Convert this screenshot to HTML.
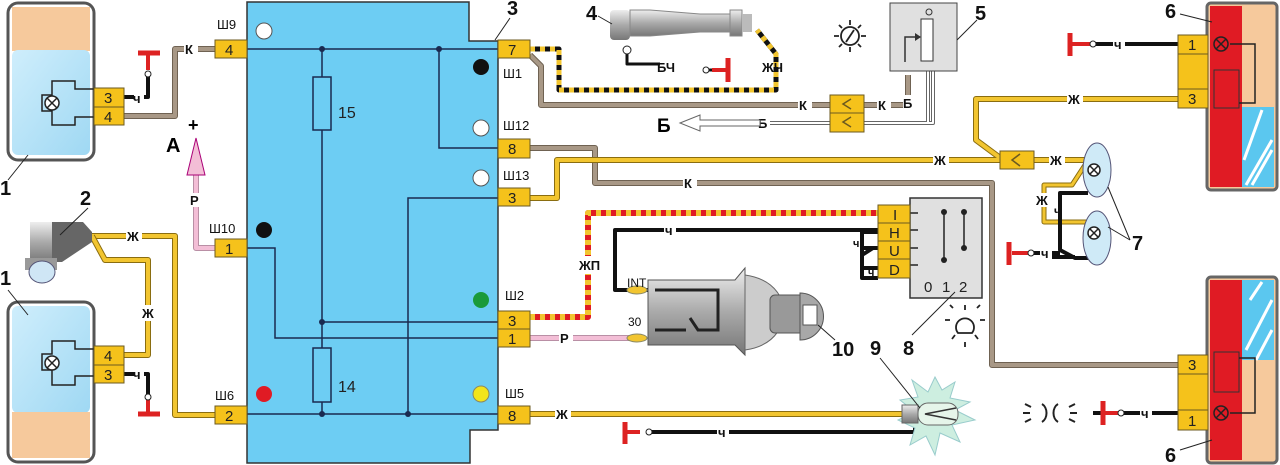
<!DOCTYPE html>
<html><head><meta charset="utf-8"><style>
body{margin:0;background:#fff}
svg{display:block}
text{font-family:"Liberation Sans",sans-serif;font-weight:bold}
.c{fill:#f5c21b;stroke:#6b5a20;stroke-width:1}
.ct{font-size:15px;font-weight:normal;fill:#222}
.lb{font-size:13px;font-weight:normal;fill:#111}
.n{font-size:20px;fill:#111}
.wl{font-size:13px;fill:#111}
</style></head><body>
<svg width="1280" height="465" viewBox="0 0 1280 465" xmlns="http://www.w3.org/2000/svg">
<defs>
<linearGradient id="cyl" x1="0" y1="0" x2="0" y2="1"><stop offset="0" stop-color="#eee"/><stop offset=".5" stop-color="#aaa"/><stop offset="1" stop-color="#777"/></linearGradient>
<linearGradient id="gl" x1="0" y1="0" x2="1" y2="1"><stop offset="0" stop-color="#cfeefc"/><stop offset="1" stop-color="#9fd8f3"/></linearGradient>
</defs>

<!-- Headlight 1 top -->
<rect x="8" y="3" width="86" height="157" rx="10" fill="#fff" stroke="#555" stroke-width="3"/>
<rect x="12" y="7" width="78" height="44" fill="#f6c99c"/>
<rect x="12" y="50" width="78" height="105" rx="6" fill="url(#gl)"/>
<path d="M94 89 H75 V81 H52 V95 H42 V111 H52 V125 H75 V117 H94" fill="none" stroke="#222" stroke-width="1.5"/>
<circle cx="52" cy="103" r="7" fill="#fff" stroke="#222" stroke-width="1.5"/><path d="M47 98l10 10M57 98l-10 10" stroke="#222" stroke-width="1.5"/>
<!-- Headlight 1 bottom -->
<rect x="8" y="302" width="86" height="160" rx="10" fill="#fff" stroke="#555" stroke-width="3"/>
<rect x="12" y="306" width="78" height="107" rx="6" fill="url(#gl)"/>
<rect x="12" y="412" width="78" height="46" fill="#f6c99c"/>
<path d="M94 349 H75 V341 H52 V354 H42 V370 H52 V385 H75 V376 H94" fill="none" stroke="#222" stroke-width="1.5"/>
<circle cx="52" cy="363" r="7" fill="#fff" stroke="#222" stroke-width="1.5"/><path d="M47 358l10 10M57 358l-10 10" stroke="#222" stroke-width="1.5"/>
<text x="0" y="195" class="n">1</text><line x1="8" y1="180" x2="28" y2="155" stroke="#222"/>
<text x="0" y="285" class="n">1</text><line x1="8" y1="290" x2="28" y2="315" stroke="#222"/>

<!-- Left wires -->
<g fill="none" stroke-linejoin="round">
<path d="M124 116 H175 V49 H215" stroke="#6f6252" stroke-width="6"/><path d="M124 116 H175 V49 H215" stroke="#a89886" stroke-width="4"/>
<path d="M92 236 H175 V415 H215" stroke="#8a6d10" stroke-width="6"/><path d="M92 236 H175 V415 H215" stroke="#f2c530" stroke-width="4"/>
<path d="M92 236 L105 260 H148 V355 H124" stroke="#8a6d10" stroke-width="6"/><path d="M92 236 L105 260 H148 V355 H124" stroke="#f2c530" stroke-width="4"/>
<path d="M124 97 H148 V76" stroke="#111" stroke-width="4"/>
<path d="M148 70 V53" stroke="#d22" stroke-width="4"/><path d="M138 53 H160" stroke="#d22" stroke-width="5"/>
<path d="M124 374 H148 V395" stroke="#111" stroke-width="4"/>
<path d="M148 400 V413" stroke="#d22" stroke-width="4"/><path d="M138 414 H160" stroke="#d22" stroke-width="5"/>
<path d="M215 248 H196 V175" stroke="#b98fa5" stroke-width="6"/><path d="M215 248 H196 V175" stroke="#f3bed6" stroke-width="4"/>
</g>
<circle cx="148" cy="74" r="3" fill="#fff" stroke="#222"/><circle cx="148" cy="397" r="3" fill="#fff" stroke="#222"/>
<path d="M187 175 L196 138 L205 175 Z" fill="#f3bed6" stroke="#a07"/>
<rect x="134" y="93" width="10" height="10" fill="#fff"/><text x="133" y="103" class="wl">ч</text>
<rect x="134" y="369" width="10" height="10" fill="#fff"/><text x="133" y="379" class="wl">ч</text>
<rect x="184" y="42" width="14" height="14" fill="#fff"/><text x="185" y="54" class="wl">К</text>
<rect x="126" y="229" width="16" height="14" fill="#fff"/><text x="127" y="241" class="wl">Ж</text>
<rect x="141" y="305" width="16" height="16" fill="#fff"/><text x="142" y="318" class="wl">Ж</text>
<rect x="189" y="193" width="14" height="14" fill="#fff"/><text x="190" y="205" class="wl">Р</text>
<text x="166" y="152" style="font-size:20px">А</text><text x="188" y="131" style="font-size:18px">+</text>
<!-- connectors left headlights -->
<rect x="94" y="88" width="30" height="19" class="c"/><text x="104" y="103" class="ct">3</text>
<rect x="94" y="107" width="30" height="18" class="c"/><text x="104" y="122" class="ct">4</text>
<rect x="94" y="346" width="30" height="19" class="c"/><text x="104" y="361" class="ct">4</text>
<rect x="94" y="365" width="30" height="18" class="c"/><text x="104" y="380" class="ct">3</text>

<!-- Sensor 2 -->
<rect x="30" y="222" width="22" height="40" fill="url(#cyl)"/>
<path d="M52 222 H83 L92 232 V242 L62 262 H52 Z" fill="#666"/>
<rect x="25" y="258" width="32" height="12" fill="#999"/>
<path d="M34 270 A14 14 0 0 0 50 270 Z" fill="#cfe6f5" stroke="#557"/>
<ellipse cx="42" cy="272" rx="13" ry="11" fill="#cfe6f5" stroke="#557"/>
<text x="80" y="205" class="n">2</text><line x1="88" y1="208" x2="60" y2="235" stroke="#222"/>

<!-- Block 3 -->
<path d="M247 2 H469 V41 H498 V430 H470 V463 H247 Z" fill="#6dcdf3" stroke="#333" stroke-width="1.5"/>
<g stroke="#1a2a50" stroke-width="1.5" fill="none">
<path d="M247 49 H498"/><path d="M322 49 V414"/><path d="M439 49 V148 H498"/>
<path d="M408 414 V198 H498"/><path d="M322 322 H498"/><path d="M247 248 H275 V338 H498"/><path d="M247 414 H498"/>
<rect x="313" y="77" width="18" height="53" fill="#6dcdf3"/><rect x="313" y="348" width="18" height="54" fill="#6dcdf3"/>
</g>
<g fill="#1a2a50"><circle cx="322" cy="49" r="3"/><circle cx="439" cy="49" r="3"/><circle cx="322" cy="322" r="3"/><circle cx="322" cy="414" r="3"/><circle cx="408" cy="414" r="3"/></g>
<text x="338" y="118" class="ct" style="font-size:16px">15</text><text x="338" y="392" class="ct" style="font-size:16px">14</text>
<circle cx="264" cy="31" r="8" fill="#fff" stroke="#555"/>
<circle cx="481" cy="67" r="8" fill="#111"/>
<circle cx="481" cy="128" r="8" fill="#fff" stroke="#555"/>
<circle cx="481" cy="178" r="8" fill="#fff" stroke="#555"/>
<circle cx="264" cy="230" r="8" fill="#111"/>
<circle cx="481" cy="300" r="8" fill="#1a9a3a"/>
<circle cx="264" cy="394" r="8" fill="#e01b24"/>
<circle cx="481" cy="394" r="8" fill="#f2e51b" stroke="#886"/>
<text x="217" y="29" class="lb">Ш9</text><text x="209" y="233" class="lb">Ш10</text><text x="215" y="400" class="lb">Ш6</text>
<text x="503" y="78" class="lb">Ш1</text><text x="503" y="130" class="lb">Ш12</text><text x="503" y="180" class="lb">Ш13</text>
<text x="505" y="300" class="lb">Ш2</text><text x="505" y="398" class="lb">Ш5</text>
<text x="507" y="15" class="n">3</text><line x1="510" y1="18" x2="495" y2="40" stroke="#222"/>

<!-- Right wires -->
<g fill="none" stroke-linejoin="round">
<!-- brown from 7 -->
<path d="M530 55 L541 66 V105 H830 M864 105 H908 V75" stroke="#6f6252" stroke-width="6"/><path d="M530 55 L541 66 V105 H830 M864 105 H908 V75" stroke="#a89886" stroke-width="4"/>
<!-- striped ЖЧ -->
<path d="M530 49 H559 V90 H776 V54 L757 30" stroke="#111" stroke-width="5"/>
<path d="M530 49 H559 V90 H776 V54 L757 30" stroke="#f2c530" stroke-width="5" stroke-dasharray="5 5"/>
<!-- Б white -->
<path d="M700 123 H830 M864 123 H933 V70 M928 123 V70" stroke="#666" stroke-width="4"/><path d="M700 123 H830 M864 123 H933 V70" stroke="#fff" stroke-width="2"/>
<path d="M928 123 V70" stroke="#fff" stroke-width="2"/>
<!-- Ш12 brown -->
<path d="M530 148 H595 V183 H992 V365 H1178" stroke="#6f6252" stroke-width="6"/><path d="M530 148 H595 V183 H992 V365 H1178" stroke="#a89886" stroke-width="4"/>
<!-- Ш13 yellow -->
<path d="M530 198 H557 V160 H1000 M1033 160 H1085 M1003 160 L976 140 V99 H1178" stroke="#8a6d10" stroke-width="6"/>
<path d="M530 198 H557 V160 H1000 M1033 160 H1085 M1003 160 L976 140 V99 H1178" stroke="#f2c530" stroke-width="4"/>
<path d="M1085 165 L1072 185 H1044 V222 H1088" stroke="#8a6d10" stroke-width="5"/><path d="M1085 165 L1072 185 H1044 V222 H1088" stroke="#f2c530" stroke-width="3"/>
<path d="M1088 193 H1060 V250 L1075 258 H1088 M1040 257 H1075" stroke="#111" stroke-width="4"/>
<!-- Ш5 yellow -->
<path d="M530 414 H902" stroke="#8a6d10" stroke-width="6"/><path d="M530 414 H902" stroke="#f2c530" stroke-width="4"/>
<path d="M652 432 H915 V420" stroke="#111" stroke-width="4"/>
<path d="M640 432 H625" stroke="#d22" stroke-width="4"/><path d="M625 422 V444" stroke="#d22" stroke-width="5"/>
<!-- ЖП striped -->
<path d="M530 317 H588 V213 H878" stroke="#e01b24" stroke-width="6"/>
<path d="M530 317 H588 V213 H878" stroke="#f2c530" stroke-width="6" stroke-dasharray="5 5"/>
<!-- Ч black -->
<path d="M878 230 H615 V290 H650" stroke="#111" stroke-width="4"/>
<path d="M878 232 H862 V255 L873 248 M878 248 H862 M878 268 H862 V278 H878 M862 255 V268" stroke="#111" stroke-width="4"/>
<!-- Р pink -->
<path d="M530 338 H635" stroke="#b98fa5" stroke-width="6"/><path d="M530 338 H635" stroke="#f3bed6" stroke-width="4"/>
<!-- BЧ ground near sensor -->
<path d="M627 52 V64 H660 M705 70 H720" stroke="#111" stroke-width="3"/>
<path d="M712 70 H728" stroke="#d22" stroke-width="4"/><path d="M728 58 V82" stroke="#d22" stroke-width="5"/>
<!-- top-right ground 6 -->
<path d="M1093 44 H1178" stroke="#111" stroke-width="4"/><path d="M1072 44 H1090" stroke="#d22" stroke-width="4"/><path d="M1070 33 V56" stroke="#d22" stroke-width="5"/>
<path d="M1093 413 H1178" stroke="#111" stroke-width="4"/><path d="M1105 413 H1118" stroke="#d22" stroke-width="4"/><path d="M1103 401 V425" stroke="#d22" stroke-width="5"/>
<path d="M1030 253 H1060" stroke="#111" stroke-width="4"/><path d="M1012 253 H1028" stroke="#d22" stroke-width="4"/><path d="M1009 242 V265" stroke="#d22" stroke-width="5"/>
</g>
<circle cx="1093" cy="44" r="3" fill="#fff" stroke="#222"/><circle cx="1121" cy="413" r="3" fill="#fff" stroke="#222"/><circle cx="1031" cy="253" r="3" fill="#fff" stroke="#222"/>
<circle cx="706" cy="70" r="3" fill="#fff" stroke="#222"/><circle cx="649" cy="432" r="3" fill="#fff" stroke="#222"/>

<!-- wire labels -->
<g class="wl">
<rect x="798" y="97" width="14" height="15" fill="#fff"/><text x="799" y="110">К</text>
<rect x="877" y="97" width="14" height="15" fill="#fff"/><text x="878" y="110">К</text>
<rect x="903" y="95" width="12" height="15" fill="#fff"/><text x="903" y="108">Б</text>
<rect x="758" y="116" width="12" height="14" fill="#fff"/><text x="758" y="128">Б</text>
<rect x="683" y="176" width="14" height="14" fill="#fff"/><text x="684" y="188">К</text>
<rect x="933" y="153" width="16" height="14" fill="#fff"/><text x="934" y="165">Ж</text>
<rect x="1049" y="153" width="16" height="14" fill="#fff"/><text x="1050" y="165">Ж</text>
<rect x="1067" y="92" width="16" height="14" fill="#fff"/><text x="1068" y="104">Ж</text>
<rect x="1035" y="193" width="16" height="14" fill="#fff"/><text x="1036" y="205">Ж</text>
<text x="1054" y="215" style="font-size:12px">ч</text>
<rect x="1040" y="246" width="12" height="14" fill="#fff"/><text x="1041" y="258">ч</text>
<rect x="1113" y="37" width="12" height="14" fill="#fff"/><text x="1114" y="49">ч</text>
<rect x="1140" y="406" width="12" height="14" fill="#fff"/><text x="1141" y="418">ч</text>
<rect x="664" y="223" width="12" height="14" fill="#fff"/><text x="665" y="235">ч</text>
<rect x="717" y="425" width="12" height="14" fill="#fff"/><text x="718" y="437">ч</text>
<rect x="555" y="407" width="16" height="14" fill="#fff"/><text x="556" y="419">Ж</text>
<rect x="559" y="331" width="14" height="14" fill="#fff"/><text x="560" y="343">Р</text>
<rect x="578" y="256" width="22" height="18" fill="#fff"/><text x="579" y="270">ЖП</text>
<text x="657" y="72">БЧ</text><text x="762" y="72">ЖЧ</text>
<text x="853" y="247" style="font-size:11px">ч</text><text x="868" y="276" style="font-size:11px">ч</text>
</g>
<text x="657" y="132" style="font-size:19px">Б</text>
<path d="M680 123 L700 115 V120 H760 V126 H700 V131 Z" fill="#fff" stroke="#666"/>

<!-- connectors right of block -->
<rect x="498" y="40" width="32" height="18" class="c"/><text x="508" y="55" class="ct">7</text>
<rect x="498" y="139" width="32" height="19" class="c"/><text x="508" y="154" class="ct">8</text>
<rect x="498" y="188" width="32" height="18" class="c"/><text x="508" y="203" class="ct">3</text>
<rect x="498" y="311" width="32" height="18" class="c"/><text x="508" y="326" class="ct">3</text>
<rect x="498" y="329" width="32" height="18" class="c"/><text x="508" y="344" class="ct">1</text>
<rect x="498" y="406" width="32" height="18" class="c"/><text x="508" y="421" class="ct">8</text>
<rect x="215" y="40" width="32" height="18" class="c"/><text x="225" y="55" class="ct">4</text>
<rect x="215" y="239" width="32" height="18" class="c"/><text x="225" y="254" class="ct">1</text>
<rect x="215" y="406" width="32" height="18" class="c"/><text x="225" y="421" class="ct">2</text>
<!-- K/Б connector -->
<rect x="830" y="95" width="34" height="18" class="c"/><rect x="830" y="113" width="34" height="19" class="c"/>
<path d="M851 99 L843 104 L851 109 M851 117 L843 122 L851 127" fill="none" stroke="#6b5a20" stroke-width="1.5"/>
<rect x="1000" y="151" width="34" height="18" class="c"/><path d="M1020 154 L1012 160 L1020 166" fill="none" stroke="#6b5a20" stroke-width="1.5"/>

<!-- Sensor 4 -->
<rect x="610" y="10" width="20" height="30" rx="4" fill="url(#cyl)"/>
<path d="M630 10 H650 L700 14 H730 V32 H700 L650 36 H630 Z" fill="url(#cyl)" stroke="#888"/>
<rect x="730" y="10" width="12" height="26" fill="url(#cyl)" stroke="#888"/><rect x="742" y="14" width="10" height="18" fill="#bbb"/>
<circle cx="627" cy="50" r="4" fill="#fff" stroke="#222"/>
<text x="586" y="20" class="n">4</text><line x1="598" y1="16" x2="612" y2="24" stroke="#222"/>

<!-- Sun icon & box 5 -->
<g stroke="#222" stroke-width="1.8" fill="none"><circle cx="850" cy="36" r="9"/><path d="M846 42 L854 30"/>
<path d="M850 20v5M850 47v5M834 36h5M861 36h5M839 25l3 3M858 44l3 3M861 25l-3 3M839 47l3-3"/></g>
<rect x="890" y="3" width="67" height="68" fill="#e0e0e0" stroke="#444"/>
<rect x="921" y="19" width="12" height="42" fill="#fff" stroke="#333"/><circle cx="929" cy="12" r="3" fill="none" stroke="#333"/>
<path d="M905 62 V37 H920" fill="none" stroke="#333" stroke-width="1.5"/><path d="M915 33 L921 37 L915 41Z" fill="#333"/>
<text x="975" y="20" class="n">5</text><line x1="977" y1="20" x2="957" y2="40" stroke="#222"/>

<!-- Taillight top 6 -->
<rect x="1207" y="3" width="70" height="187" rx="4" fill="#f6c99c" stroke="#666" stroke-width="3"/>
<rect x="1210" y="6" width="32" height="181" fill="#e01b24"/>
<rect x="1242" y="107" width="32" height="80" fill="#5bc7ef"/>
<path d="M1246 185 L1272 140 M1252 185 L1272 150 M1244 160 L1262 110" stroke="#fff" stroke-width="3"/>
<rect x="1214" y="70" width="25" height="38" fill="#e01b24" stroke="#333"/>
<path d="M1230 44 H1255 V103 H1239" fill="none" stroke="#222" stroke-width="1.5"/>
<circle cx="1221" cy="44" r="7" fill="#e01b24" stroke="#222" stroke-width="1.5"/><path d="M1216 39l10 10M1226 39l-10 10" stroke="#222" stroke-width="1.5"/>
<rect x="1178" y="35" width="30" height="73" class="c"/><line x1="1178" y1="54" x2="1208" y2="54" stroke="#6b5a20"/><line x1="1178" y1="89" x2="1208" y2="89" stroke="#6b5a20"/>
<text x="1188" y="50" class="ct">1</text><text x="1188" y="104" class="ct">3</text>
<text x="1165" y="18" class="n">6</text><line x1="1180" y1="14" x2="1212" y2="22" stroke="#222"/>
<!-- Taillight bottom 6 -->
<rect x="1207" y="277" width="70" height="186" rx="4" fill="#f6c99c" stroke="#666" stroke-width="3"/>
<rect x="1210" y="280" width="32" height="180" fill="#e01b24"/>
<rect x="1242" y="280" width="32" height="80" fill="#5bc7ef"/>
<path d="M1246 350 L1272 300 M1250 300 L1262 282 M1256 360 L1272 330" stroke="#fff" stroke-width="3"/>
<rect x="1214" y="352" width="25" height="40" fill="#e01b24" stroke="#333"/>
<path d="M1239 358 H1255 V413 H1230" fill="none" stroke="#222" stroke-width="1.5"/>
<circle cx="1221" cy="413" r="7" fill="#e01b24" stroke="#222" stroke-width="1.5"/><path d="M1216 408l10 10M1226 408l-10 10" stroke="#222" stroke-width="1.5"/>
<rect x="1178" y="355" width="30" height="75" class="c"/><line x1="1178" y1="374" x2="1208" y2="374" stroke="#6b5a20"/><line x1="1178" y1="410" x2="1208" y2="410" stroke="#6b5a20"/>
<text x="1188" y="370" class="ct">3</text><text x="1188" y="426" class="ct">1</text>
<text x="1165" y="462" class="n">6</text><line x1="1180" y1="450" x2="1212" y2="440" stroke="#222"/>

<!-- Lamps 7 -->
<ellipse cx="1097" cy="170" rx="14" ry="27" fill="#cfeaf7" stroke="#557"/>
<ellipse cx="1097" cy="238" rx="14" ry="27" fill="#cfeaf7" stroke="#557"/>
<g stroke="#222" stroke-width="1.5" fill="#fff"><circle cx="1094" cy="170" r="6"/><circle cx="1094" cy="233" r="6"/></g>
<path d="M1090 166l8 8M1098 166l-8 8M1090 229l8 8M1098 229l-8 8" stroke="#222" stroke-width="1.5"/>
<text x="1132" y="250" class="n">7</text><line x1="1130" y1="240" x2="1108" y2="227" stroke="#222"/><line x1="1130" y1="240" x2="1108" y2="187" stroke="#222"/>

<!-- Switch 8 -->
<rect x="910" y="198" width="72" height="100" fill="#e0e0e0" stroke="#333" stroke-width="1.5"/>
<g stroke="#222" stroke-width="1.5"><path d="M910 213h8M910 230h8M910 248h8M910 265h8M944 260V212M964 248V212"/></g>
<g fill="#222"><circle cx="944" cy="260" r="3"/><circle cx="944" cy="212" r="3"/><circle cx="964" cy="248" r="3"/><circle cx="964" cy="212" r="3"/></g>
<text x="924" y="292" class="ct">0</text><text x="942" y="292" class="ct">1</text><text x="959" y="292" class="ct">2</text>
<rect x="878" y="205" width="32" height="73" class="c"/>
<g stroke="#6b5a20"><line x1="878" y1="223" x2="910" y2="223"/><line x1="878" y1="241" x2="910" y2="241"/><line x1="878" y1="259" x2="910" y2="259"/></g>
<text x="893" y="220" class="ct">I</text><text x="889" y="238" class="ct">H</text><text x="889" y="256" class="ct">U</text><text x="889" y="275" class="ct">D</text>
<text x="903" y="355" class="n">8</text><line x1="912" y1="335" x2="955" y2="292" stroke="#222"/>
<g stroke="#222" stroke-width="1.8" fill="none"><path d="M958 333 A9 9 0 1 1 972 333 Z"/><path d="M965 310v-5M950 320h-5M980 320h5M953 308l-3-3M977 308l3-3M955 335l-3 4M975 335l3 4M965 342v5"/></g>

<!-- Ignition switch 10 -->
<path d="M648 280 H735 L745 268 V355 L735 345 H648 Z" fill="url(#cyl)" stroke="#555"/>
<path d="M745 275 Q780 280 785 312 Q780 345 745 350Z" fill="#ccc" stroke="#666"/>
<path d="M655 290 H718 V330 H698 L690 318 M686 330 H655" fill="none" stroke="#222" stroke-width="3"/>
<rect x="770" y="295" width="35" height="38" rx="5" fill="#999" stroke="#555"/>
<path d="M800 293 A22 22 0 1 1 800 340 Z" fill="#a8a8a8" stroke="#555"/><rect x="803" y="305" width="14" height="20" fill="#fff" stroke="#555"/>
<ellipse cx="637" cy="290" rx="10" ry="4" fill="#f2c530" stroke="#886"/><ellipse cx="637" cy="338" rx="10" ry="4" fill="#f2c530" stroke="#886"/>
<text x="627" y="287" class="lb" style="font-size:12px">INT</text><text x="628" y="326" class="lb" style="font-size:12px">30</text>
<text x="832" y="356" class="n">10</text><line x1="835" y1="340" x2="818" y2="325" stroke="#222"/>

<!-- Lamp 9 -->
<path d="M935 377 L942 390 L955 382 L950 398 L970 402 L955 410 L975 420 L952 425 L960 442 L940 433 L935 455 L926 436 L910 445 L915 428 L898 420 L915 412 L900 400 L918 397 L912 380 L928 392 Z" fill="#cdeee0" stroke="#9cc"/>
<rect x="902" y="405" width="16" height="18" fill="url(#cyl)" stroke="#666"/>
<rect x="918" y="403" width="40" height="22" rx="10" fill="#e6f5ea" stroke="#666"/>
<path d="M956 408 L925 414 L956 420" fill="none" stroke="#333" stroke-width="1.5"/>
<text x="870" y="355" class="n">9</text><line x1="880" y1="358" x2="920" y2="408" stroke="#222"/>
<g stroke="#222" stroke-width="2" fill="none"><path d="M1042 404 A8 10 0 0 1 1042 422"/><path d="M1058 404 A8 10 0 0 0 1058 422"/>
<path d="M1025 404l6 3M1023 413h7M1025 422l6-3M1075 404l-6 3M1077 413h-7M1075 422l-6-3"/></g>
</svg>
</body></html>
